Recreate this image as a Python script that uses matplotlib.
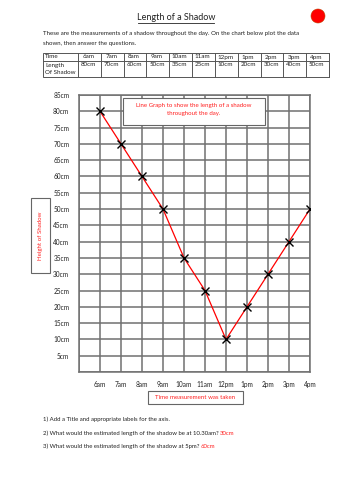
import matplotlib
matplotlib.use("Agg")
import matplotlib.pyplot as plt
from matplotlib.patches import Rectangle, Circle

plt.rcParams['font.family'] = ['Lato', 'DejaVu Sans']

times = ['6am', '7am', '8am', '9am', '10am', '11am', '12pm', '1pm', '2pm', '3pm', '4pm']
lengths = [80, 70, 60, 50, 35, 25, 10, 20, 30, 40, 50]
length_labels = ['80cm', '70cm', '60cm', '50cm', '35cm', '25cm', '10cm', '20cm', '30cm', '40cm', '50cm']
y_ticks = list(range(5, 90, 5))
y_tick_labels = [f'{v}cm' for v in y_ticks]

W, H = 353, 500
fig = plt.figure(figsize=(W / 100, H / 100), dpi=100)
fig.patch.set_facecolor('white')

RED = '#ff2020'
GRID = '#707070'
TXT = '#222222'

# --- main chart ---
L, R, T, B = 79, 310, 95, 372
ax = fig.add_axes([L / W, 1 - B / H, (R - L) / W, (B - T) / H])
x = list(range(1, len(times) + 1))
ax.set_xlim(0, len(times))
ax.set_ylim(0, 85)
ax.set_xticks(range(0, len(times) + 1))
ax.set_xticklabels([''] + times, fontsize=4.7, color=TXT)
ax.set_yticks([0] + y_ticks)
ax.set_yticklabels([''] + y_tick_labels, fontsize=4.7, color=TXT)
ax.tick_params(length=0, pad=7)
ax.tick_params(axis='x', pad=6.5)
ax.grid(True, color=GRID, lw=1.1)
for s in ax.spines.values():
    s.set_color(GRID)
    s.set_linewidth(1.1)
ax.set_axisbelow(True)
ax.plot(x, lengths, color='red', lw=0.9, zorder=3)
ax.plot(x, lengths, ls='none', marker='x', color='black', ms=6, mew=1.0, zorder=4)

# --- overlay in pixel coordinates ---
ov = fig.add_axes([0, 0, 1, 1], zorder=5)
ov.set_xlim(0, W)
ov.set_ylim(H, 0)
ov.axis('off')
ov.patch.set_alpha(0)

# title
ov.text(176, 18, 'Length of a Shadow', fontsize=6.5, ha='center', va='center', color=TXT)
ov.plot([138, 214], [23, 23], color=TXT, lw=0.6)
ov.add_patch(Circle((318, 16), 7, facecolor='#ff0000', edgecolor='#c04000', lw=0.4))

ov.text(43, 34, 'These are the measurements of a shadow throughout the day. On the chart below plot the data',
        fontsize=4.4, ha='left', va='center', color=TXT)
ov.text(43, 43, 'shown, then answer the questions.', fontsize=4.4, ha='left', va='center', color=TXT)

# table
tx0, tx1, ty0, tym, ty1 = 43, 329, 53, 61, 77
c0 = 78
cw = (tx1 - c0) / len(times)
ov.add_patch(Rectangle((tx0, ty0), tx1 - tx0, ty1 - ty0, fill=False, ec='#555555', lw=0.7))
ov.plot([tx0, tx1], [tym, tym], color='#555555', lw=0.7)
for i in range(len(times) + 1):
    xx = c0 + i * cw
    ov.plot([xx, xx], [ty0, ty1], color='#555555', lw=0.7)
FS_T = 4.5
ov.text(tx0 + 2, 57, 'Time', fontsize=FS_T, ha='left', va='center', color=TXT)
ov.text(tx0 + 2, 65, 'Length', fontsize=FS_T, ha='left', va='center', color=TXT)
ov.text(tx0 + 2, 73, 'Of Shadow', fontsize=FS_T, ha='left', va='center', color=TXT)
for i, (t, l) in enumerate(zip(times, length_labels)):
    cx = c0 + i * cw + 10.5
    ov.text(cx, 57, t, fontsize=FS_T, ha='center', va='center', color=TXT)
    ov.text(cx, 65, l, fontsize=FS_T, ha='center', va='center', color=TXT)

# chart title box
ov.add_patch(Rectangle((123, 98), 142, 27, facecolor='white', ec='#666666', lw=0.8))
ov.text(194, 105, 'Line Graph to show the length of a shadow', fontsize=4.4, ha='center', va='center', color=RED)
ov.text(194, 114, 'throughout the day.', fontsize=4.4, ha='center', va='center', color=RED)

# y label box
ov.add_patch(Rectangle((31, 198), 19, 75, facecolor='white', ec='#666666', lw=0.8))
ov.text(40.5, 235.5, 'Height of Shadow', fontsize=4.4, rotation=90, ha='center', va='center', color=RED)

# x label box
ov.add_patch(Rectangle((148, 391), 95, 13, facecolor='white', ec='#666666', lw=0.8))
ov.text(195.5, 397.5, 'Time measurement was taken', fontsize=4.4, ha='center', va='center', color=RED)

# questions
q1 = '1) Add a Title and appropriate labels for the axis.'
q2 = '2) What would the estimated length of the shadow be at 10.30am? '
q3 = '3) What would the estimated length of the shadow at 5pm? '
a2, a3 = '30cm', '60cm'
FS_Q = 4.35
ov.text(43, 421, q1, fontsize=FS_Q, ha='left', va='baseline', color=TXT)
t2 = ov.text(43, 435, q2, fontsize=FS_Q, ha='left', va='baseline', color=TXT)
t3 = ov.text(43, 448, q3, fontsize=FS_Q, ha='left', va='baseline', color=TXT)
fig.canvas.draw()
inv = ov.transData.inverted()
for t, a, yy in [(t2, a2, 435), (t3, a3, 448)]:
    bb = t.get_window_extent()
    xe = inv.transform((bb.x1, bb.y0))[0]
    ov.text(xe, yy, a, fontsize=FS_Q, ha='left', va='baseline', color=RED)

fig.savefig('out.png', dpi=100)
